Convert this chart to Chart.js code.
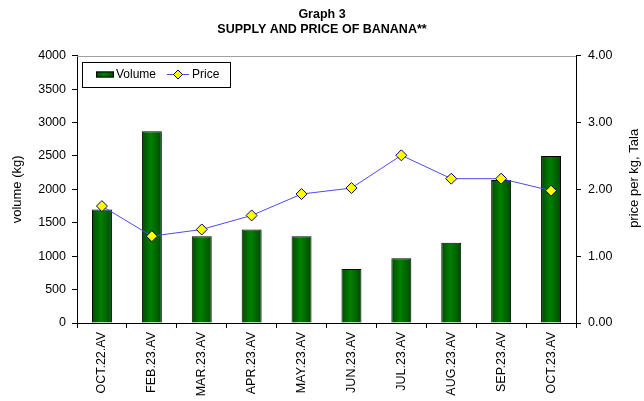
<!DOCTYPE html>
<html><head><meta charset="utf-8">
<script src="https://cdn.jsdelivr.net/npm/chart.js@4"></script>
<style>html,body{margin:0;padding:0;background:#fff}canvas{display:block}</style>
</head><body>
<canvas id="c" width="644" height="401"></canvas>
<script>
const categories = ['OCT.22.AV','FEB.23.AV','MAR.23.AV','APR.23.AV','MAY.23.AV','JUN.23.AV','JUL.23.AV','AUG.23.AV','SEP.23.AV','OCT.23.AV'];
const volumeKg = [1700, 2870, 1300, 1400, 1300, 810, 970, 1200, 2140, 2500];
const pricePerKg = [1.75, 1.30, 1.40, 1.61, 1.93, 2.02, 2.51, 2.16, 2.16, 1.98];
const volumeTicks = [0, 500, 1000, 1500, 2000, 2500, 3000, 3500, 4000];
const priceTicks = [0, 1, 2, 3, 4];
const titleLines = ['Graph 3', 'SUPPLY AND PRICE OF BANANA**'];
const leftAxisTitle = 'volume (kg)';
const rightAxisTitle = 'price per kg, Tala';

const FONT = "'Liberation Sans', Arial, sans-serif";
Chart.defaults.font.family = FONT;
Chart.defaults.font.size = 12.5;
Chart.defaults.color = '#000';

function barGradient(ctx, x1, x2) {
  const g = ctx.createLinearGradient(x1, 0, x2, 0);
  g.addColorStop(0, '#004a00');
  g.addColorStop(0.45, '#008000');
  g.addColorStop(1, '#004a00');
  return g;
}

const framePlugin = {
  id: 'frame',
  beforeDatasetsDraw(chart) {
    const {ctx, chartArea: a} = chart;
    ctx.save();
    ctx.strokeStyle = '#a0a0a0';
    ctx.lineWidth = 1;
    ctx.beginPath();
    ctx.moveTo(a.left, Math.round(a.top) + 0.5);
    ctx.lineTo(a.right, Math.round(a.top) + 0.5);
    ctx.stroke();
    ctx.restore();
    const meta = chart.getDatasetMeta(1);
    meta.data.forEach(el => {
      const half = el.width / 2;
      el.options = Object.assign({}, el.options, {backgroundColor: barGradient(ctx, el.x - half, el.x + half)});
    });
  },
  afterDraw(chart) {
    const {ctx, chartArea: a} = chart;
    ctx.save();
    ctx.font = '13px ' + FONT;
    ctx.fillStyle = '#000';
    ctx.textAlign = 'center';
    ctx.textBaseline = 'middle';
    ctx.translate(chart.width - 10, (a.top + a.bottom) / 2 - 11);
    ctx.rotate(-Math.PI / 2);
    ctx.fillText(rightAxisTitle, 0, 0);
    ctx.restore();

    ctx.save();
    const x0 = Math.round(a.left) + 5, y0 = Math.round(a.top) + 6, w = 148, h = 25;
    ctx.fillStyle = '#fff';
    ctx.fillRect(x0, y0, w, h);
    ctx.strokeStyle = '#000';
    ctx.lineWidth = 1;
    ctx.strokeRect(x0 + 0.5, y0 + 0.5, w, h);
    const yc = y0 + 12.5;
    ctx.fillStyle = barGradient(ctx, x0 + 14, x0 + 32);
    ctx.fillRect(x0 + 14, yc - 3, 18, 6);
    ctx.strokeRect(x0 + 14.5, yc - 2.5, 17, 5);
    ctx.fillStyle = '#000';
    ctx.font = '12px ' + FONT;
    ctx.textBaseline = 'middle';
    ctx.fillText(chart.data.datasets[1].label, x0 + 34, yc);
    ctx.strokeStyle = '#4d4de6';
    ctx.beginPath();
    ctx.moveTo(x0 + 85, yc); ctx.lineTo(x0 + 107, yc); ctx.stroke();
    const dx = x0 + 96, r = 4.5;
    ctx.beginPath();
    ctx.moveTo(dx, yc - r); ctx.lineTo(dx + r, yc); ctx.lineTo(dx, yc + r); ctx.lineTo(dx - r, yc); ctx.closePath();
    ctx.fillStyle = '#ffff00'; ctx.fill();
    ctx.strokeStyle = '#000080'; ctx.stroke();
    ctx.fillStyle = '#000';
    ctx.fillText(chart.data.datasets[0].label, x0 + 110, yc);
    ctx.restore();
  }
};

new Chart(document.getElementById('c'), {
  type: 'bar',
  data: {
    labels: categories,
    datasets: [
      {
        type: 'line', label: 'Price', data: pricePerKg, yAxisID: 'y1', order: 0,
        borderColor: '#4d4de6', borderWidth: 1, tension: 0,
        pointStyle: 'rectRot', pointRadius: 5.5, pointBackgroundColor: '#ffff00',
        pointBorderColor: '#000080', pointBorderWidth: 1
      },
      {
        type: 'bar', label: 'Volume', data: volumeKg, yAxisID: 'y', order: 1,
        backgroundColor: '#007000', borderColor: '#000', borderWidth: 1,
        barPercentage: 0.4, categoryPercentage: 1.0
      }
    ]
  },
  options: {
    responsive: false, animation: false, devicePixelRatio: 1,
    layout: {padding: 0},
    plugins: {
      legend: {display: false},
      tooltip: {enabled: false},
      title: {
        display: true, text: titleLines, color: '#000',
        font: {size: 12.5, weight: 'bold', lineHeight: 1.25},
        padding: {top: 6.5, bottom: 18}
      }
    },
    scales: {
      x: {
        offset: true,
        grid: {offset: true, drawOnChartArea: false, drawTicks: true, tickLength: 5, color: '#000'},
        border: {color: '#000'},
        ticks: {minRotation: 90, maxRotation: 90, autoSkip: false, padding: 4, color: '#000', font: {size: 12.5}},
        afterFit(s) { s.height = 78; }
      },
      y: {
        position: 'left', min: 0, max: 4000,
        afterBuildTicks(s) { s.ticks = volumeTicks.map(v => ({value: v})); },
        grid: {drawOnChartArea: false, tickLength: 5, color: '#000'},
        border: {color: '#000'},
        ticks: {padding: 6, color: '#000', font: {size: 12.5}, callback: v => String(v)},
        title: {display: true, text: leftAxisTitle, color: '#000', font: {size: 13}, padding: {top: 10, bottom: 0}},
        afterFit(s) { s.width = 77; }
      },
      y1: {
        position: 'right', min: 0, max: 4,
        afterBuildTicks(s) { s.ticks = priceTicks.map(v => ({value: v})); },
        grid: {drawOnChartArea: false, tickLength: 5, color: '#000'},
        border: {color: '#000'},
        ticks: {padding: 7, color: '#000', font: {size: 12.5}, callback: v => Number(v).toFixed(2)},
        afterFit(s) { s.width = 68; }
      }
    }
  },
  plugins: [framePlugin]
});
</script>
</body></html>
